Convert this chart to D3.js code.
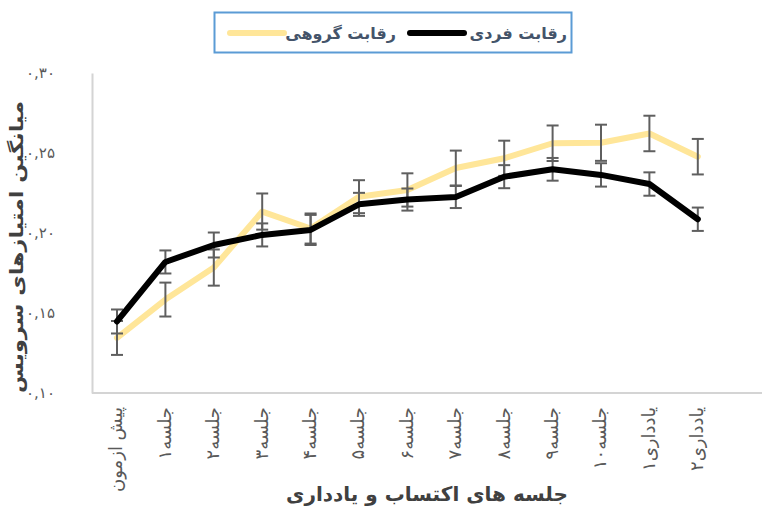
<!DOCTYPE html>
<html>
<head>
<meta charset="utf-8">
<script src="https://cdn.jsdelivr.net/npm/d3@7/dist/d3.min.js"></script>
<style>
  html, body { margin: 0; padding: 0; background: #fff; }
  svg { display: block; font-family: "DejaVu Sans", "Noto Sans", sans-serif; }
</style>
</head>
<body>
<svg id="chart" width="762" height="508"></svg>
<script>
// Sessions along the x axis
const categories = ["پیش ازمون", "جلسه۱", "جلسه۲", "جلسه۳", "جلسه۴", "جلسه۵", "جلسه۶",
  "جلسه۷", "جلسه۸", "جلسه۹", "جلسه۱۰", "یادداری۱", "یادداری۲"];

// Mean scores, group competition
const groupValues = [0.1344, 0.1584, 0.1784, 0.2134, 0.2028, 0.2227, 0.2269,
  0.2406, 0.2467, 0.2561, 0.2564, 0.2622, 0.2477];
const groupErrors = [0.0106, 0.0106, 0.0113, 0.0113, 0.0094, 0.0103, 0.0104,
  0.0109, 0.0110, 0.0111, 0.0113, 0.0111, 0.0111];

// Mean scores, individual competition
const individualValues = [0.1447, 0.1819, 0.1925, 0.1988, 0.2019, 0.2179, 0.2209,
  0.2225, 0.2352, 0.2398, 0.2363, 0.2306, 0.2086];
const individualErrors = [0.0075, 0.0072, 0.0078, 0.0072, 0.0094, 0.0072, 0.0069,
  0.0069, 0.0072, 0.0071, 0.0073, 0.0073, 0.0073];

const yTickValues = [0.10, 0.15, 0.20, 0.25, 0.30];
const yTickLabels = ["۰,۱۰", "۰,۱۵", "۰,۲۰", "۰,۲۵", "۰,۳۰"];

const seriesNames = ["رقابت فردی", "رقابت گروهی"];
const yTitle = "میانگین امتیازهای سرویس";
const xTitle = "جلسه های اکتساب  و یادداری";

const svg = d3.select("#chart");
const plot = { left: 92.8, right: 722, top: 73, bottom: 393 };

const x = d3.scaleBand().domain(categories).range([plot.left, plot.right]);
const cx = c => x(c) + x.bandwidth() / 2;
const y = d3.scaleLinear().domain([0.10, 0.30]).range([plot.bottom, plot.top]);

const axisColor = "#d4d4d4";
const tickColor = "#595959";
const titleColor = "#404040";

// Y axis
const yAxis = svg.append("g")
  .attr("transform", `translate(92,0)`)
  .call(d3.axisLeft(y).tickValues(yTickValues)
    .tickFormat((d, i) => yTickLabels[i]).tickSize(0).tickPadding(37).tickSizeOuter(0));
yAxis.select(".domain").attr("stroke", axisColor).attr("stroke-width", 2);
yAxis.selectAll("text").attr("fill", tickColor).style("font-size", "15px")
  .style("font-family", "DejaVu Sans").attr("direction", "ltr");

// X axis
const xAxis = svg.append("g")
  .attr("transform", `translate(0,${plot.bottom})`)
  .call(d3.axisBottom(x).tickSize(0).tickSizeOuter(0));
xAxis.select(".domain").remove();
xAxis.append("line")
  .attr("x1", 92).attr("x2", 762).attr("y1", 0).attr("y2", 0)
  .attr("stroke", axisColor).attr("stroke-width", 2);
xAxis.selectAll(".tick text")
  .attr("fill", tickColor)
  .style("font-size", "18px")
  .style("font-family", "DejaVu Sans")
  .attr("direction", "ltr")
  .attr("text-anchor", "end")
  .attr("transform", "rotate(-90)")
  .attr("x", -14).attr("y", 0).attr("dy", "0.3em");

// Lines
const line = d3.line().x((d, i) => cx(categories[i])).y(d => y(d));

function drawLine(values, color) {
  svg.append("path").datum(values)
    .attr("d", line)
    .attr("fill", "none")
    .attr("stroke", color)
    .attr("stroke-width", 6)
    .attr("stroke-linejoin", "round")
    .attr("stroke-linecap", "round");
}

function drawErrors(values, errors) {
  const g = svg.append("g").attr("stroke", "#5f5f5f").attr("stroke-width", 2);
  values.forEach((v, i) => {
    const px = cx(categories[i]);
    const y0 = y(v - errors[i]), y1 = y(v + errors[i]);
    g.append("line").attr("x1", px).attr("x2", px).attr("y1", y0).attr("y2", y1);
    g.append("line").attr("x1", px - 6).attr("x2", px + 6).attr("y1", y0).attr("y2", y0);
    g.append("line").attr("x1", px - 6).attr("x2", px + 6).attr("y1", y1).attr("y2", y1);
  });
}

const groupColor = "#ffe699";
const individualColor = "#000000";

drawLine(groupValues, groupColor);
drawErrors(groupValues, groupErrors);
drawErrors(individualValues, individualErrors);
drawLine(individualValues, individualColor);

// Axis titles
svg.append("text")
  .attr("transform", `translate(17,247) rotate(-90)`)
  .attr("text-anchor", "middle")
  .attr("dy", "0.35em")
  .attr("fill", titleColor)
  .attr("textLength", 292)
  .attr("lengthAdjust", "spacingAndGlyphs")
  .style("font-size", "18px").style("font-weight", "bold")
  .text(yTitle);

svg.append("text")
  .attr("x", 427).attr("y", 494)
  .attr("text-anchor", "middle")
  .attr("dy", "0.35em")
  .attr("fill", titleColor)
  .style("font-size", "20px").style("font-weight", "bold")
  .text(xTitle);

// Legend
const legend = svg.append("g");
legend.append("rect")
  .attr("x", 214.5).attr("y", 12.5).attr("width", 357).attr("height", 40)
  .attr("fill", "#fff").attr("stroke", "#5b9bd5").attr("stroke-width", 2);

const legendItems = [
  { name: seriesNames[0], color: individualColor, lineX: 410, textRight: 567 },
  { name: seriesNames[1], color: groupColor, lineX: 230, textRight: 396 }
];
legendItems.forEach(it => {
  legend.append("line")
    .attr("x1", it.lineX).attr("x2", it.lineX + 54)
    .attr("y1", 33).attr("y2", 33)
    .attr("stroke", it.color).attr("stroke-width", 6).attr("stroke-linecap", "round");
  legend.append("text")
    .attr("x", it.textRight).attr("y", 33).attr("dy", "0.35em")
    .attr("text-anchor", "end").attr("direction", "ltr")
    .attr("fill", "#44546a")
    .style("font-size", "16px").style("font-weight", "bold")
    .text(it.name);
});
</script>
</body>
</html>
